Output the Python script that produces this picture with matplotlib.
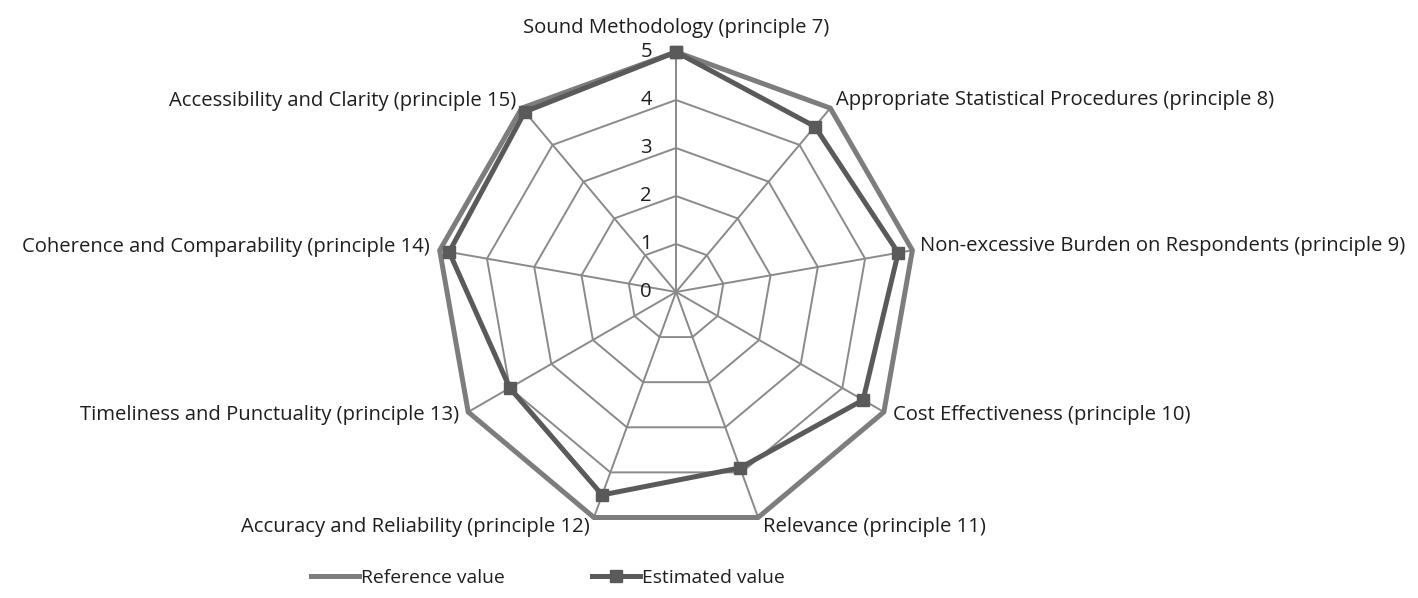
import numpy as np
import matplotlib
matplotlib.use('Agg')
import matplotlib.pyplot as plt
from matplotlib.transforms import offset_copy
from matplotlib.lines import Line2D

categories = [
    "Sound Methodology (principle 7)",
    "Appropriate Statistical Procedures (principle 8)",
    "Non-excessive Burden on Respondents (principle 9)",
    "Cost Effectiveness (principle 10)",
    "Relevance (principle 11)",
    "Accuracy and Reliability (principle 12)",
    "Timeliness and Punctuality (principle 13)",
    "Coherence and Comparability (principle 14)",
    "Accessibility and Clarity (principle 15)",
]
reference_values = [5, 5, 5, 5, 5, 5, 5, 5, 5]
estimated_values = [5, 4.5, 4.7, 4.5, 3.9, 4.5, 4.0, 4.8, 4.9]
tick_values = [0, 1, 2, 3, 4, 5]
series_names = ["Reference value", "Estimated value"]

FONT = "Open Sans"
FS = 14.6
LFS = 13.9
plt.rcParams['font.family'] = [FONT, 'DejaVu Sans']

fig = plt.figure(figsize=(14.18, 5.98), dpi=100)
ax = fig.add_axes([0.3075, 0.1104, 0.3385, 0.8027], projection='polar')
ax.set_theta_zero_location('N')
ax.set_theta_direction(-1)
ax.set_ylim(0, max(tick_values))
ax.grid(False)
ax.spines['polar'].set_visible(False)
ax.set_xticks([])
ax.set_yticks([])
ax.patch.set_visible(False)

n = len(categories)
angles = np.linspace(0, 2 * np.pi, n, endpoint=False)
closed = np.concatenate([angles, angles[:1]])

grid_col = '#8a8a8a'
for r in tick_values[1:]:
    ax.plot(closed, [r] * (n + 1), color=grid_col, lw=1.4, clip_on=False, zorder=1)
for a in angles:
    ax.plot([a, a], [0, max(tick_values)], color=grid_col, lw=1.4, clip_on=False, zorder=1)

ref = reference_values + reference_values[:1]
est = estimated_values + estimated_values[:1]
ax.plot(closed, ref, color='#7d7d7d', lw=3.6, clip_on=False, zorder=3, solid_joinstyle='miter')
ax.plot(closed, est, color='#5a5a5a', lw=3.6, marker='s', markersize=8.5, clip_on=False, zorder=4,
        solid_joinstyle='miter')

for r in tick_values:
    tr = offset_copy(ax.transData, fig=fig, x=-30, y=0, units='dots')
    ax.text(0, r, str(r), transform=tr, ha='center', va='center', fontsize=FS, color='#1e1e1e')

# label placements: (ha, va, dx, dy) in pixels
place = [
    ('center', 'bottom', 0, 14),
    ('left', 'center', 6, 8),
    ('left', 'center', 8, 4),
    ('left', 'center', 9, -3),
    ('left', 'top', 5, 0),
    ('right', 'top', -4, 0),
    ('right', 'center', -9, -3),
    ('right', 'center', -10, 3),
    ('right', 'center', -6, 7),
]
for a, lab, (ha, va, dx, dy) in zip(angles, categories, place):
    tr = offset_copy(ax.transData, fig=fig, x=dx, y=dy, units='dots')
    ax.text(a, max(reference_values), lab, transform=tr, ha=ha, va=va, fontsize=FS, color='#1e1e1e')

handles = [
    Line2D([], [], color='#7d7d7d', lw=3.6),
    Line2D([], [], color='#5a5a5a', lw=3.6, marker='s', markersize=8.5),
]
fig.legend(handles, series_names, loc='center', bbox_to_anchor=(548 / 1418, 1 - 578 / 598),
           ncol=2, frameon=False, handlelength=2.5, handletextpad=0.1, columnspacing=4.5,
           fontsize=LFS, labelcolor='#1e1e1e')

fig.savefig('out.png', dpi=100)
